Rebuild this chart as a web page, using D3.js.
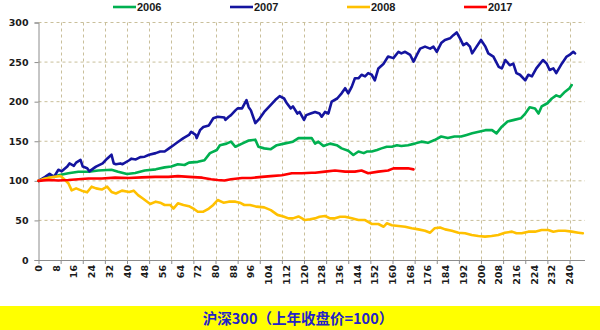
<!DOCTYPE html>
<html><head><meta charset="utf-8">
<script src="https://cdn.jsdelivr.net/npm/d3@7"></script>
<style>body{margin:0;background:#fff}svg{display:block}</style>
</head><body>
<svg id="c" width="600" height="330"></svg>
<script>
// ---- data ----
const seriesNames = ["2006", "2007", "2008", "2017"];
const xTickLabels = d3.range(0, 241, 8);
const yTicks = [0, 50, 100, 150, 200, 250, 300];
const titleText = "沪深300（上年收盘价=100）";

const day2006 = [0,4.5,9,13.5,18,22.6,27,33,36,40,43.7,48,53,57,60,63,66,68,72,75,77.5,80.6,82,85,87,89,92,95,98,99.4,102,105,107.7,111,115,117.5,120.5,123.5,125,126.5,128.8,131.8,134.8,137,140,142.3,144.6,147,148.4,150.6,153,155,157.4,159.7,162,164,167,170,173,176,179,182,185,188,191,193.5,196,199,202,205,207,209.4,212,215,218,220,222,224.4,226,227.4,230,232,234,235.7,238,240,241];
const val2006 = [100,105,107,109.5,111.5,111.5,113,114,111.5,108.6,110,113,114.5,117,118,121,120,123,124,126,135,139,145,147,149.5,143,147,151,152,143,141,140,145,147,149.5,154,154,154,147,149.5,144,147,145,141,138,132.6,137,135,137,137,139,141,143,143,145,144,145,147,149.5,148,151.5,156,154,156,156,158,160,162,164,164,160,168.4,175,177,179,185,193,191.5,185,194,198,204,208,206,212.6,217,221];

const day2007 = [0,3,5,7,9,10.5,13,14,16,17,19,20,22,23,25,26,29,31,33,34,35,37,38,41,42,44,46,48,50,53,55,57,59,61,63,65.5,68,69,71,71.5,73,74.5,77,79,81,84,84.5,86,87,89,90,92,94,95,96,97,98,100,102,105,107,109,111,112,114,115,117,118,120,121,123,125,127,128,129.5,131,132.5,135,137,138.6,140,141.6,143,144.6,146,147.6,149,150.6,152,153.6,156,158,160.4,162.7,164,165.7,168,169.5,171,172.5,174.7,177,178.5,180,182,183.7,186,187.5,189,190.5,192,193.5,195,196,198,200,202,203.3,205.6,208,209.4,211,213,214.6,216,217.6,220,221.4,223,225,228,229.7,231,232.7,234,236.5,238.7,240,241.7,242.5];
const val2007 = [100,105,109,105,114,112,118,122,119,123,126.5,118,116,112,116,118,122,128,133,122,121,122,121,126,128,127,130,130.5,133,135,137,137,141,145,149,154,158,162,158,154,164,168,170,179,181,180,177,181,183,189,191.5,191.5,202,193,189,181,173,179,187,196,202,207,204,199,191.5,194,185,187,177,183,185,187,185,181,187,185,200,204,210.5,217,210.5,219,229.5,229.5,234,232,236,234,227,242,248,257,255,263,261,263,259,250.5,259,267,269.5,267,269.5,263,274,278,280,284,287.5,280,271.5,274,269.5,261,269.5,278,269.5,261,257,244,242,252.6,246,248,236,234,227,234,232,242,252.6,248,240,242,236,248,257,259,263,261];

const day2008 = [0,3,7,10,12,13.5,15,17,19.5,22,24,26,28.6,31,33,35,37.7,41,43,45,47,50.5,53,55,57,59.5,61,63,65.5,68,70,72,74.5,77,79,81,83.6,86,89,91,93,95.6,98.6,102,105,108,110.7,113,115,117.5,120.5,122.7,125,127,129.5,131.8,134,136.3,138.6,141.6,144.6,147.6,150.6,153.6,156,157.4,159.7,162.7,165.7,168.7,171.7,174.7,177,179,181.5,183.8,186.8,189.8,192.8,195.8,198.8,201.8,204.8,207.8,210.8,214,216,218.4,221.4,224.4,227.4,230.4,232.7,235,238,241,244,246];
const val2008 = [100,103,105,106,101,97,88,90.5,87.6,85.5,92.6,90.5,89,92.6,86,84,87.6,86,87.6,82,78,70.7,73.7,72.4,69.5,69.5,65,71.6,69.5,68,65,61,61,65,69.5,75.8,72.4,73.7,73.7,72.4,69.5,69.5,67.4,66.5,63,57,55,52.6,52.6,55,50.5,51.4,52.6,54.7,55.6,52.6,52.6,54.7,54.7,52.6,50.5,50.5,45.5,45.5,42,46.3,44,43,42,40,38.7,37,34.5,40,41,38.7,37,34.5,33.7,31.6,30.3,29.5,30.3,31.6,34.5,35.8,33.7,33.7,35.8,35.8,37.9,37.9,35.8,37,37,35.8,34.5,33.7];

const day2017 = [0,4.5,9,13.5,18,22.6,28.6,34.6,40.7,46.7,52.7,58.7,63,68,74,78,81,84,87,92,96,101,105,110,114.5,119,123.5,125,129.5,134,138.6,143,146,149,153.6,158,160.4,164,167,169.5];
const val2017 = [100,101,100.5,101,102,103,103,104,103.6,104.4,105,105,106,105,104,102,101,100.5,102,103.6,103.6,105,106,107,109.5,109.5,110.3,110.3,111.6,113,111.6,111.6,113,109.5,111.6,113,115.8,115.8,115.8,114.5];

const colors = ["#00B050", "#14149F", "#FFC000", "#FF0000"];

// ---- chart ----
const svg = d3.select("#c");
const x = d3.scaleLinear().domain([0, 247]).range([38.5, 585]);
const y = d3.scaleLinear().domain([0, 300]).range([260, 22.5]);
const gridColor = "#C9BF9A";

// horizontal gridlines
svg.append("g").selectAll("line").data(yTicks.filter(d => d > 0)).join("line")
  .attr("x1", x(0)).attr("x2", x(247)).attr("y1", d => y(d)).attr("y2", d => y(d))
  .attr("stroke", gridColor).attr("stroke-width", 1).attr("stroke-dasharray", "3,3");
// vertical gridlines every 10
const vGrid = d3.range(10, 241, 10);
svg.append("g").selectAll("line").data(vGrid).join("line")
  .attr("x1", d => Math.round(x(d)) + 0.5).attr("x2", d => Math.round(x(d)) + 0.5)
  .attr("y1", y(300)).attr("y2", y(0))
  .attr("stroke", gridColor).attr("stroke-width", 1).attr("stroke-dasharray", "3,3");

// axes
const yAxis = svg.append("g").attr("transform", `translate(${x(0)},0)`)
  .call(d3.axisLeft(y).tickValues(yTicks).tickSize(4).tickPadding(6));
yAxis.select(".domain").attr("stroke", "#8C8C8C");
yAxis.selectAll(".tick line").attr("stroke", "#8C8C8C");
yAxis.selectAll("text").attr("font-family", "DejaVu Sans").attr("font-weight", "bold")
  .attr("font-size", 9.5).attr("fill", "#1a1a1a");

const xAxis = svg.append("g").attr("transform", `translate(0,${y(0)})`)
  .call(d3.axisBottom(x).tickValues(d3.range(0, 241, 10)).tickSize(4).tickFormat(""));
xAxis.select(".domain").attr("stroke", "#8C8C8C").attr("d", `M${x(0)},0.5H${x(247)}`);
xAxis.selectAll(".tick line").attr("stroke", "#8C8C8C");

// x labels every 8, rotated
svg.append("g").selectAll("text").data(xTickLabels).join("text")
  .attr("transform", d => `translate(${x(d) + 3.5},${y(0) + 5}) rotate(-90)`)
  .attr("text-anchor", "end")
  .attr("font-family", "DejaVu Sans").attr("font-weight", "bold")
  .attr("font-size", 9.5).attr("fill", "#1a1a1a")
  .text(d => d);

// lines
const series = [
  {name: seriesNames[0], days: day2006, vals: val2006},
  {name: seriesNames[1], days: day2007, vals: val2007},
  {name: seriesNames[2], days: day2008, vals: val2008},
  {name: seriesNames[3], days: day2017, vals: val2017}
];
const line = d3.line().x(d => x(d[0])).y(d => y(d[1]));
svg.append("g").selectAll("path").data(series).join("path")
  .attr("d", s => line(s.days.map((d, i) => [d, s.vals[i]])))
  .attr("fill", "none").attr("stroke", (s, i) => colors[i])
  .attr("stroke-width", 2.6).attr("stroke-linejoin", "round").attr("stroke-linecap", "round");

// legend
const legendX = [113, 230, 347, 464];
const lg = svg.append("g").selectAll("g").data(series).join("g")
  .attr("transform", (s, i) => `translate(${legendX[i]},7)`);
lg.append("line").attr("x1", 0).attr("x2", 23).attr("y1", 0).attr("y2", 0)
  .attr("stroke", (s, i) => colors[i]).attr("stroke-width", 2.6);
lg.append("text").attr("x", 24).attr("y", 4)
  .attr("font-family", "Liberation Sans").attr("font-weight", "bold")
  .attr("font-size", 11).attr("fill", "#1a1a1a").text(s => s.name);

// title bar
svg.append("rect").attr("x", 0).attr("y", 306).attr("width", 600).attr("height", 24).attr("fill", "#FFFF00");
svg.append("text").attr("x", 298).attr("y", 323.5).attr("text-anchor", "middle")
  .attr("font-family", "Noto Sans CJK SC").attr("font-weight", "bold")
  .attr("font-size", 14.5).attr("fill", "#2323C8").text(titleText);
</script>
</body></html>
